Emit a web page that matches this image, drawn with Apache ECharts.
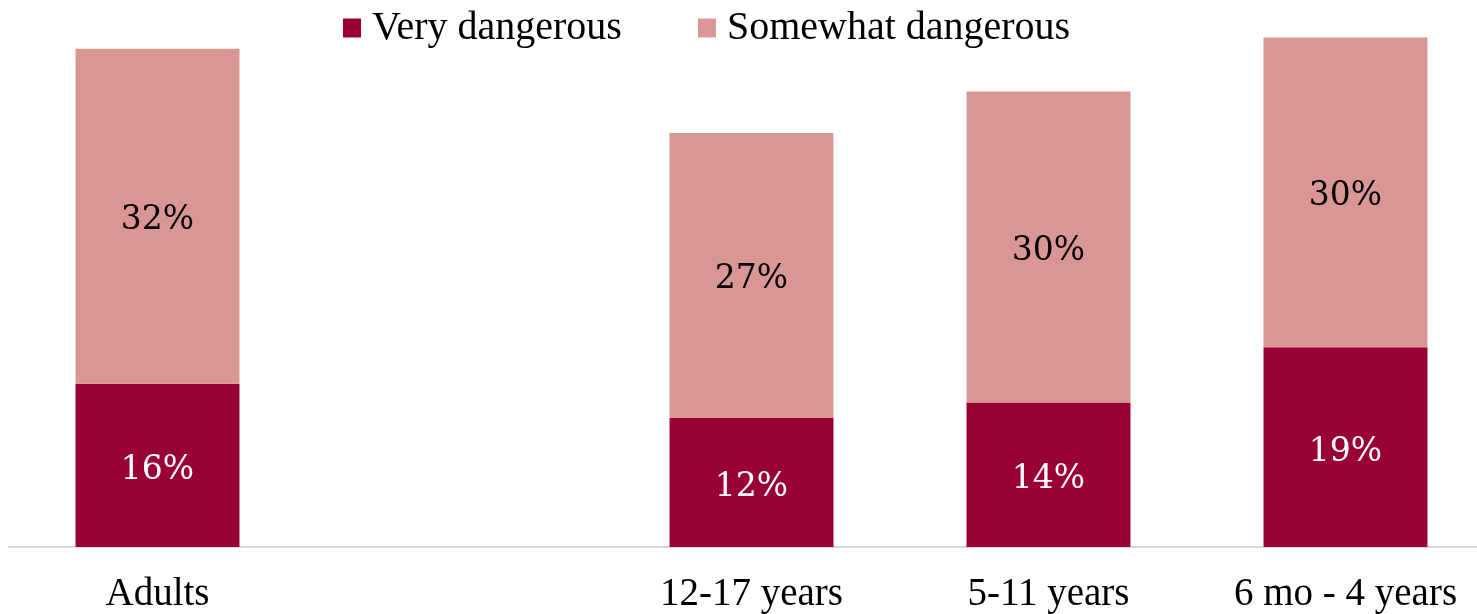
<!DOCTYPE html>
<html>
<head>
<meta charset="utf-8">
<script src="https://cdn.jsdelivr.net/npm/echarts@6/dist/echarts.min.js"></script>
<style>
html,body{margin:0;padding:0;background:#fff;}
#chart{width:1477px;height:614px;}
</style>
</head>
<body>
<div id="chart"></div>
<script>
const categories = ['Adults', '', '12-17 years', '5-11 years', '6 mo - 4 years'];
const veryDangerous = [15.7, null, 12.4, 13.9, 19.2];
const somewhatDangerous = [32.2, null, 27.4, 29.9, 29.8];
const seriesNames = ['Very dangerous', 'Somewhat dangerous'];

const chart = echarts.init(document.getElementById('chart'));
const pct = p => Math.round(p.value) + '%';
chart.setOption({
  animation: false,
  legend: {
    left: 338, top: 3,
    icon: 'rect',
    itemWidth: 18, itemHeight: 19, itemGap: 76,
    textStyle: {fontFamily: 'Liberation Serif', fontSize: 40, color: '#000', padding: [0,0,0,6]},
    data: seriesNames
  },
  grid: {left: 9, width: 1485, top: 27, height: 520, outerBoundsMode: 'none', containLabel: false},
  xAxis: {
    type: 'category', data: categories,
    axisLine: {lineStyle: {color: '#d9d9d9', width: 2}},
    axisTick: {show: false},
    axisLabel: {fontFamily: 'Liberation Serif', fontSize: 39, color: '#000', margin: 28, interval: 0}
  },
  yAxis: {type: 'value', min: 0, max: 50, show: false, splitLine: {show: false}},
  series: [
    {name: seriesNames[0], type: 'bar', stack: 's', data: veryDangerous, barWidth: '55.2%',
     itemStyle: {color: '#990033'},
     label: {show: true, position: 'inside', formatter: pct, color: '#fff', fontFamily: 'DejaVu Serif', fontSize: 33, offset: [0, 5]}},
    {name: seriesNames[1], type: 'bar', stack: 's', data: somewhatDangerous, barWidth: '55.2%',
     itemStyle: {color: '#d99694'},
     label: {show: true, position: 'inside', formatter: pct, color: '#000', fontFamily: 'DejaVu Serif', fontSize: 33, offset: [0, 4]}}
  ]
});
</script>
</body>
</html>
